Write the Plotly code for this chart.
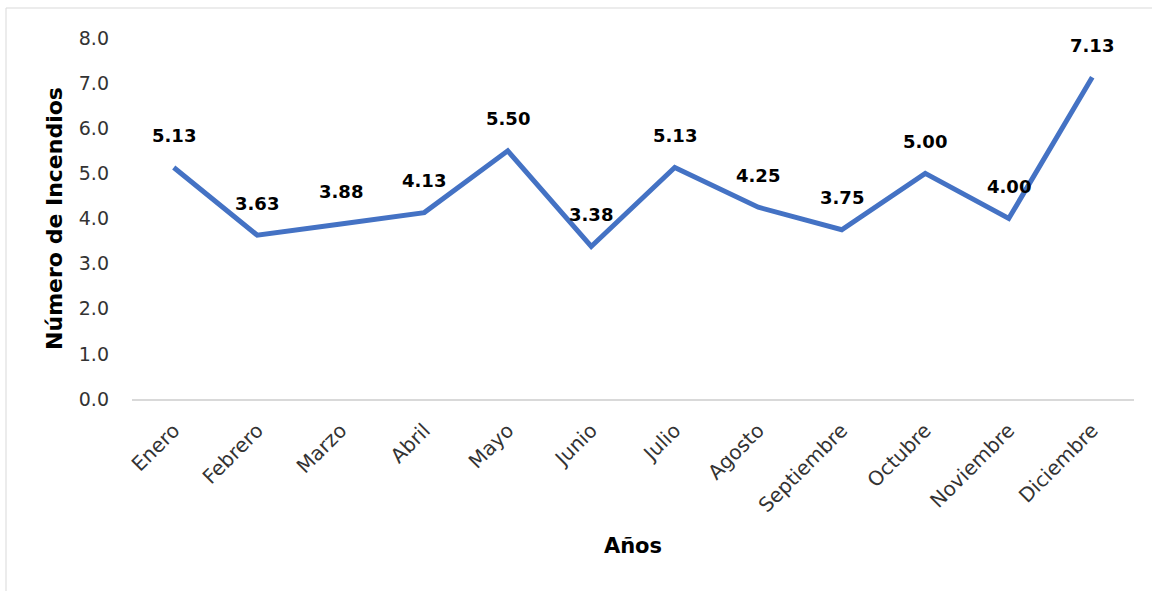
import plotly.graph_objects as go

meses = ["Enero", "Febrero", "Marzo", "Abril", "Mayo", "Junio", "Julio",
         "Agosto", "Septiembre", "Octubre", "Noviembre", "Diciembre"]
incendios = [5.13, 3.63, 3.88, 4.13, 5.50, 3.38, 5.13, 4.25, 3.75, 5.00, 4.00, 7.13]
y_ticks = [0, 1, 2, 3, 4, 5, 6, 7, 8]

FONT = "DejaVu Sans"
W, H = 1152, 591
L, R, T, B = 132, 18, 38, 192

fig = go.Figure()
fig.add_trace(go.Scatter(
    x=meses, y=incendios, mode="lines",
    line=dict(color="#4472C4", width=5),
    hoverinfo="x+y", showlegend=False,
))

for m, v in zip(meses, incendios):
    fig.add_annotation(x=m, y=v, text=f"<b>{v:.2f}</b>", showarrow=False,
                       yshift=32, font=dict(family=FONT, size=18, color="#000000"))

pw = W - L - R
ph = H - T - B
fig.add_shape(type="rect", xref="paper", yref="paper",
              x0=(6 - L) / pw, x1=(W + 5 - L) / pw,
              y0=-(H + 5 - (H - B)) / ph, y1=(H - B - 8) / ph,
              line=dict(color="#D9D9D9", width=1), fillcolor="rgba(0,0,0,0)",
              layer="below")

fig.update_layout(
    width=W, height=H,
    margin=dict(l=L, r=R, t=T, b=B, autoexpand=False),
    paper_bgcolor="white", plot_bgcolor="white",
    font=dict(family=FONT, color="#000000"),
    xaxis=dict(
        range=[-0.5, len(meses) - 0.5],
        showgrid=False, showline=True, linecolor="#D9D9D9", linewidth=1.5,
        tickangle=-45, tickfont=dict(family=FONT, size=20, color="#333333"),
        ticks="outside", ticklen=10, tickcolor="rgba(0,0,0,0)", automargin=False,
        title=dict(text="<b>Años</b>", font=dict(family=FONT, size=21, color="#000000"), standoff=22),
    ),
    yaxis=dict(
        range=[0, 8], tickvals=y_ticks, ticktext=[f"{t:.1f}" for t in y_ticks],
        showgrid=False, showline=False, zeroline=False,
        tickfont=dict(family=FONT, size=19, color="#333333"),
        ticks="", ticklabelstandoff=22, automargin=False,
        title=dict(text="<b>Número de Incendios</b>", font=dict(family=FONT, size=22, color="#000000"), standoff=10),
    ),
)

fig.write_html("out.html", config={"displayModeBar": False},
               post_script="document.body.style.margin='0';")
